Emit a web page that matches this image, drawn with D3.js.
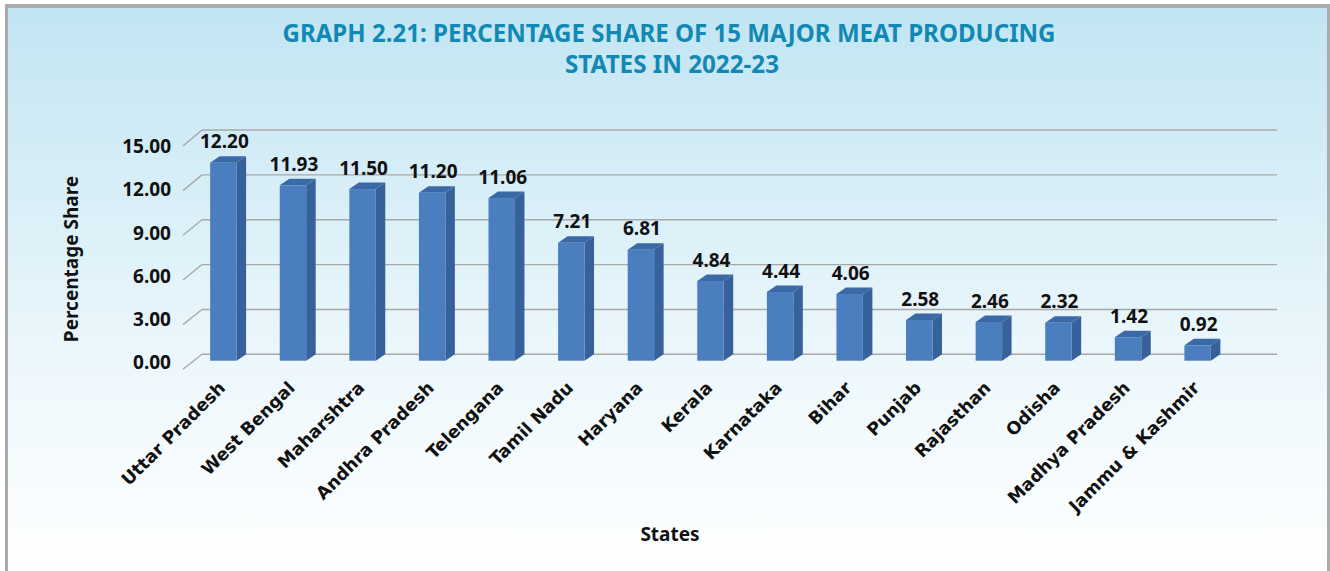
<!DOCTYPE html>
<html>
<head>
<meta charset="utf-8">
<script src="https://cdn.jsdelivr.net/npm/d3@7"></script>
<style>
  html, body { margin: 0; padding: 0; background: #ffffff; }
  svg { display: block; }
</style>
</head>
<body>
<svg id="chart" width="1330" height="571"></svg>
<script>
// ---- Data ----
const titleLines = ["GRAPH 2.21: PERCENTAGE SHARE OF 15 MAJOR MEAT PRODUCING", "STATES IN 2022-23"];
const states = ["Uttar Pradesh", "West Bengal", "Maharshtra", "Andhra Pradesh", "Telengana",
  "Tamil Nadu", "Haryana", "Kerala", "Karnataka", "Bihar", "Punjab", "Rajasthan",
  "Odisha", "Madhya Pradesh", "Jammu & Kashmir"];
// printed data labels
const shareLabels = [12.20, 11.93, 11.50, 11.20, 11.06, 7.21, 6.81, 4.84, 4.44, 4.06, 2.58, 2.46, 2.32, 1.42, 0.92];
// bar heights as drawn in the reference (read against the axis)
const barHeights = [13.24, 11.73, 11.48, 11.24, 10.88, 7.89, 7.42, 5.33, 4.60, 4.46, 2.72, 2.59, 2.54, 1.57, 1.03];
const yTicks = [0, 3, 6, 9, 12, 15];
const yTitle = "Percentage Share";
const xTitle = "States";

// ---- Layout ----
const W = 1330, H = 571;
const NOTO = "'Noto Sans', 'Open Sans', sans-serif";
const DEJAVU = "'DejaVu Sans', Verdana, sans-serif";
const svg = d3.select("#chart");
const defs = svg.append("defs");
const grad = defs.append("linearGradient").attr("id", "bg").attr("x1", 0).attr("y1", 0).attr("x2", 0).attr("y2", 1);
grad.append("stop").attr("offset", "0%").attr("stop-color", "#c2e5f3");
grad.append("stop").attr("offset", "65%").attr("stop-color", "#eef8fc");
grad.append("stop").attr("offset", "100%").attr("stop-color", "#ffffff");

svg.append("rect").attr("x", 5).attr("y", 4).attr("width", W - 5).attr("height", H - 4).attr("fill", "#ababab");
svg.append("rect").attr("x", 8).attr("y", 8).attr("width", W - 11).attr("height", H - 8).attr("fill", "url(#bg)");

// Scales
const yBack = d3.scaleLinear().domain([0, 15]).range([354.3, 130]);   // back wall
const yFront = d3.scaleLinear().domain([0, 15]).range([369.3, 146]);  // front edge of side wall
const yLabel = d3.scaleLinear().domain([0, 15]).range([362.7, 146.7]); // tick label positions
const yBar = d3.scaleLinear().domain([0, 15]).range([360.7, 360.7 - 15 * 14.95]); // bar front face
const x = d3.scaleBand().domain(states).range([167, 1254]).paddingInner(0.62).paddingOuter(0.62);
const depthX = 9.5, depthY = 6.5;
const wallLeft = 202, wallRight = 1277, frontLeft = 183;

// Gridlines on the back wall + side-wall diagonals
const grid = svg.append("g").attr("stroke", "#a8a8a8").attr("stroke-width", 1.4);
grid.selectAll("line.h").data(yTicks).join("line").attr("class", "h")
  .attr("x1", wallLeft).attr("x2", wallRight)
  .attr("y1", d => yBack(d)).attr("y2", d => yBack(d));
grid.selectAll("line.d").data(yTicks).join("line").attr("class", "d")
  .attr("x1", wallLeft).attr("x2", frontLeft)
  .attr("y1", d => yBack(d)).attr("y2", d => yFront(d));

// Y axis labels
const yAxis = d3.axisLeft(yLabel).tickValues(yTicks).tickFormat(d3.format(".2f")).tickSize(0).tickPadding(0);
const yg = svg.append("g").attr("transform", "translate(171,0)").call(yAxis);
yg.select(".domain").remove();
yg.selectAll("text").style("font-family", NOTO).style("font-weight", 700)
  .style("font-size", "19px").attr("fill", "#111");

// Bars
const data = states.map((s, i) => ({ state: s, h: barHeights[i], label: shareLabels[i] }));
const bars = svg.append("g").selectAll("g").data(data).join("g");
bars.append("polygon").attr("fill", "#36619a")
  .attr("points", d => {
    const x1 = x(d.state) + x.bandwidth(), yt = yBar(d.h), y0 = yBar(0);
    return [[x1, yt], [x1 + depthX, yt - depthY], [x1 + depthX, y0 - depthY], [x1, y0]].join(" ");
  });
bars.append("polygon").attr("fill", "#3b69a6")
  .attr("points", d => {
    const x0 = x(d.state), x1 = x0 + x.bandwidth(), yt = yBar(d.h);
    return [[x0, yt], [x0 + depthX, yt - depthY], [x1 + depthX, yt - depthY], [x1, yt]].join(" ");
  });
bars.append("rect").attr("fill", "#4a7ebf")
  .attr("x", d => x(d.state)).attr("width", x.bandwidth())
  .attr("y", d => yBar(d.h)).attr("height", d => yBar(0) - yBar(d.h));

// Value labels
svg.append("g").selectAll("text").data(data).join("text")
  .attr("x", d => x(d.state) + x.bandwidth() / 2 + 1)
  .attr("y", d => yBar(d.h) - 21)
  .attr("dy", "0.35em")
  .attr("text-anchor", "middle")
  .style("font-family", NOTO).style("font-weight", 700).style("font-size", "19px")
  .attr("fill", "#111")
  .text(d => d3.format(".2f")(d.label));

// Category labels
svg.append("g").selectAll("text").data(states).join("text")
  .attr("text-anchor", "end")
  .attr("transform", d => `translate(${x(d) + x.bandwidth() / 2 + 3},${389}) rotate(-45)`)
  .style("font-family", DEJAVU).style("font-weight", 700).style("font-size", "17.5px")
  .attr("fill", "#111")
  .text(d => d);

// Axis titles
svg.append("text").attr("transform", "translate(78,259) rotate(-90)")
  .attr("text-anchor", "middle")
  .style("font-family", NOTO).style("font-weight", 700).style("font-size", "19px")
  .attr("fill", "#111").text(yTitle);
svg.append("text").attr("x", 670).attr("y", 541)
  .attr("text-anchor", "middle")
  .style("font-family", NOTO).style("font-weight", 700).style("font-size", "19px")
  .attr("fill", "#111").text(xTitle);

// Title
const tt = svg.append("g");
tt.append("text").attr("x", 669).attr("y", 42).attr("text-anchor", "middle")
  .style("font-family", NOTO).style("font-weight", 700).style("font-size", "25px")
  .attr("fill", "#1189b4")
  .attr("textLength", 773).attr("lengthAdjust", "spacingAndGlyphs").text(titleLines[0]);
tt.append("text").attr("x", 672).attr("y", 73).attr("text-anchor", "middle")
  .style("font-family", NOTO).style("font-weight", 700).style("font-size", "25px")
  .attr("fill", "#1189b4")
  .attr("textLength", 214).attr("lengthAdjust", "spacingAndGlyphs").text(titleLines[1]);
</script>
</body>
</html>
